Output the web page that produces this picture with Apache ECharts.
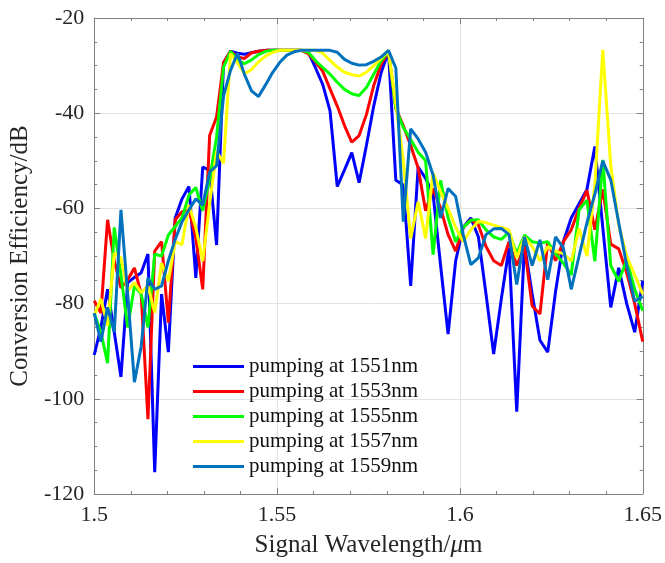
<!DOCTYPE html>
<html>
<head>
<meta charset="utf-8">
<script src="https://cdn.jsdelivr.net/npm/echarts@6/dist/echarts.min.js"></script>
<style>
html,body{margin:0;padding:0;background:#fff;}
#chart{width:665px;height:563px;}
</style>
</head>
<body>
<div id="chart"></div>
<script>
// Signal wavelengths (µm)
var wavelengths = [
1.50000, 1.50182, 1.50365, 1.50548, 1.50731, 1.50915, 1.51099, 1.51284, 1.51469, 1.51654,
1.51841, 1.52027, 1.52214, 1.52401, 1.52590, 1.52778, 1.52967, 1.53156, 1.53346, 1.53536,
1.53727, 1.53918, 1.54110, 1.54302, 1.54494, 1.54688, 1.54881, 1.55075, 1.55270, 1.55465,
1.55660, 1.55856, 1.56053, 1.56250, 1.56448, 1.56646, 1.56844, 1.57043, 1.57243, 1.57443,
1.57643, 1.57845, 1.58046, 1.58248, 1.58451, 1.58654, 1.58858, 1.59062, 1.59266, 1.59472,
1.59677, 1.59884, 1.60091, 1.60298, 1.60506, 1.60714, 1.60923, 1.61133, 1.61343, 1.61554,
1.61765, 1.61976, 1.62189, 1.62402, 1.62615, 1.62829, 1.63044, 1.63259, 1.63474, 1.63690,
1.63907, 1.64125, 1.64343, 1.64561, 1.64780, 1.65000
];

var seriesNames = ['pumping at 1551nm','pumping at 1553nm','pumping at 1555nm','pumping at 1557nm','pumping at 1559nm'];

var pump1551 = [
-90.8,-85,-77,-86,-95.4,-75.6,-74.5,-73.5,-69.6,-115.4,
-78,-90.2,-62,-58,-55.4,-74.6,-51.3,-52,-67.7,-29.4,
-27,-27.4,-27.6,-27.3,-27,-26.8,-26.8,-26.8,-26.8,-26.8,
-26.8,-27.2,-30.5,-34,-39.5,-55.4,-51.9,-48.3,-54.6,-46.8,
-38.5,-31.5,-27,-54.1,-55.1,-76.3,-51.3,-53.7,-57,-72,
-86.4,-71,-64,-62,-66,-78,-90.6,-79,-68.3,-102.7,
-67.6,-78,-87.7,-90.2,-77.5,-67,-62,-59,-56,-47,
-64,-80.8,-72.5,-80,-86,-75.2
];
var pump1553 = [
-79.4,-82,-62.4,-71,-76.7,-75,-72.5,-78,-104.3,-69,
-67,-84,-62.4,-60.7,-60.3,-66.2,-77,-44.7,-40.8,-29.4,
-27,-28.2,-28.5,-27.3,-27,-26.8,-26.8,-26.8,-26.8,-26.8,
-26.8,-27.5,-29.2,-31.2,-34.9,-38.5,-42.6,-46.1,-44.7,-40.3,
-34.2,-29.7,-27,-39,-42.6,-46.8,-51.5,-60.5,-55.8,-60,
-65.5,-69,-64,-62.4,-63.5,-68,-71,-72,-67,-72,
-68,-80.5,-82.2,-67,-71,-67,-64.5,-60,-56.2,-64.5,
-56,-67.5,-68.5,-73.5,-80,-88
];
var pump1555 = [
-82,-86,-92.5,-64,-74,-85,-76.3,-78,-85,-69.6,
-70,-65.6,-63.8,-62,-57.2,-55.6,-60.5,-53.8,-45,-30.3,
-27,-28.8,-29.6,-28.8,-27.7,-27,-26.8,-26.8,-26.8,-26.8,
-26.8,-27.2,-29,-30.4,-31.8,-33.5,-35,-35.9,-36.3,-34.6,
-31.8,-29,-27,-39,-43,-45.5,-48.2,-50,-69.7,-54.1,
-62,-67,-64,-62.5,-62.4,-64.5,-66,-66.5,-65,-69.5,
-65.6,-67,-67.3,-67,-69.5,-71.5,-74,-60.3,-58.3,-71.1,
-49.8,-72,-75.3,-70.8,-77,-81.5
];
var pump1557 = [
-82.5,-79,-84.7,-69.4,-70.4,-77.4,-75.6,-77.7,-76.3,-81.9,
-71.5,-75.3,-67,-67.6,-59.3,-64,-71.1,-59,-48,-50.5,
-27.5,-29.4,-31.7,-30.8,-29.2,-28,-27.2,-26.8,-26.8,-26.8,
-26.8,-26.8,-26.8,-27.4,-28.9,-30.3,-31.4,-31.9,-32.2,-31.4,
-30,-28.5,-27,-38,-50,-66.3,-58.6,-66.3,-52.5,-56.5,
-60,-64,-67,-64.5,-62.7,-63,-63.5,-64,-64.5,-70.4,
-66,-68,-71,-68,-69,-69.5,-71.1,-64.2,-70,-55,
-26.7,-51,-63.5,-70,-74,-78
];
var pump1559 = [
-82,-88,-80.8,-86,-60.3,-78,-96.5,-89,-74.6,-77,
-76.3,-71,-66.5,-62.8,-60.3,-58,-59.3,-52.4,-51,-36.4,
-31,-27.4,-31.9,-35.3,-36.5,-34,-31.4,-29.3,-27.8,-27.1,
-26.8,-26.8,-26.8,-26.8,-26.8,-27.2,-28.7,-29.5,-29.9,-29.8,
-29.1,-28.2,-26.8,-30.5,-62.8,-43.3,-45.4,-48.2,-53,-62,
-55.8,-57.5,-65.5,-71.8,-70.4,-65.5,-64.3,-64.2,-65.5,-76,
-66,-72,-66.6,-75,-66,-68.3,-77,-70,-63,-57,
-50,-54,-63,-72,-79.5,-78.5
];

var seriesValues = [pump1551, pump1553, pump1555, pump1557, pump1559];
var seriesColors = ['#0000FF','#FF0000','#00FF00','#FFFF00','#0072BD'];

var xTicks = {min: 1.5, max: 1.65, interval: 0.05};
var yTicks = {min: -120, max: -20, interval: 20};

var FONT = '"Liberation Serif","Times New Roman",serif';
var AX = '#808080';
var TXT = '#262626';

function pairs(ys){ return ys.map(function(y,i){ return [wavelengths[i], y]; }); }

var series = seriesNames.map(function(n, idx){
  return {
    name: n, type: 'line', data: pairs(seriesValues[idx]),
    showSymbol: false, symbol: 'none', smooth: false, clip: true,
    lineStyle: {color: seriesColors[idx], width: 3},
    itemStyle: {color: seriesColors[idx]},
    emphasis: {disabled: true}, z: 2 + idx
  };
});

function xAxisCfg(pos){
  var main = pos === 'bottom';
  return {
    type: 'value', position: pos, min: xTicks.min, max: xTicks.max, interval: xTicks.interval,
    axisLine: {show: true, onZero: false, lineStyle: {color: AX, width: 1}},
    axisTick: {show: true, inside: true, length: 6, lineStyle: {color: AX}},
    minorTick: {show: true, splitNumber: 5, length: 3, lineStyle: {color: AX}},
    splitLine: {show: main, lineStyle: {color: '#e3e3e3', width: 1}},
    axisLabel: {show: main, margin: 10, fontFamily: FONT, fontSize: 22, color: TXT,
      formatter: function(v){ return String(+v.toFixed(2)); }},
    name: main ? 'Signal Wavelength/{it|μ}m' : '',
    nameLocation: 'middle', nameGap: 39,
    nameTextStyle: {fontFamily: FONT, fontSize: 25, color: TXT,
      rich: {it: {fontFamily: FONT, fontSize: 25, fontStyle: 'italic', color: TXT}}}
  };
}
function yAxisCfg(pos){
  var main = pos === 'left';
  return {
    type: 'value', position: pos, min: yTicks.min, max: yTicks.max, interval: yTicks.interval,
    axisLine: {show: true, onZero: false, lineStyle: {color: AX, width: 1}},
    axisTick: {show: true, inside: true, length: 6, lineStyle: {color: AX}},
    minorTick: {show: true, splitNumber: 4, length: 3, lineStyle: {color: AX}},
    splitLine: {show: main, lineStyle: {color: '#e3e3e3', width: 1}},
    axisLabel: {show: main, margin: 10, fontFamily: FONT, fontSize: 22, color: TXT},
    name: main ? 'Conversion Efficiency/dB' : '',
    nameLocation: 'middle', nameGap: 57, nameRotate: 90,
    nameTextStyle: {fontFamily: FONT, fontSize: 25, color: TXT}
  };
}

var chart = echarts.init(document.getElementById('chart'), null, {renderer: 'canvas'});
chart.setOption({
  animation: false,
  backgroundColor: '#ffffff',
  grid: {left: 92, right: 22, top: 18, bottom: 65, containLabel: false},
  xAxis: [xAxisCfg('bottom'), xAxisCfg('top')],
  yAxis: [yAxisCfg('left'), yAxisCfg('right')],
  legend: {
    data: seriesNames, orient: 'vertical', left: 193, top: 356,
    icon: 'rect', itemWidth: 51, itemHeight: 3, itemGap: 4,
    textStyle: {fontFamily: FONT, fontSize: 21, lineHeight: 21, color: '#111'},
    backgroundColor: 'transparent', borderWidth: 0, padding: 0
  },
  series: series
});
</script>
</body>
</html>
